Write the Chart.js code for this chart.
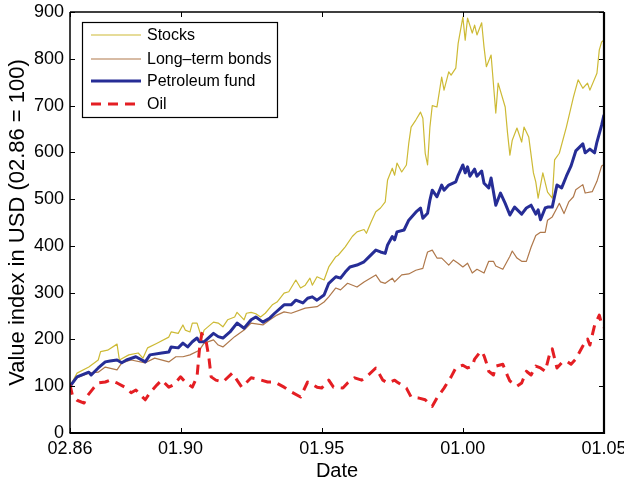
<!DOCTYPE html>
<html>
<head>
<meta charset="utf-8">
<script src="https://cdn.jsdelivr.net/npm/chart.js@4.4.1/dist/chart.umd.min.js"></script>
<style>
html,body{margin:0;padding:0;background:#fff;}
#c{display:block;}
</style>
</head>
<body>
<canvas id="c" width="624" height="483" style="width:624px;height:483px"></canvas>
<script>
// Months counted from Feb 1986 (0) to Jan 2005 (227)
const tickMonths = [0, 47, 107, 167, 227];
const tickLabels = ['02.86', '01.90', '01.95', '01.00', '01.05'];
const seriesNames = ['Stocks', 'Long\u2013term bonds', 'Petroleum fund', 'Oil'];

const stocksMonths = [0,3,8,12,13,16,20,21,25,29,31,33,37,42,43,46,48,49,51,52,54,56,57,61,63,65,67,70,71,74,75,77,79,81,83,86,88,91,93,96,98,100,102,103,105,108,110,113,114,117,120,122,125,126,128,130,132,134,135,137,138,139,141,143,144,145,147,149,150,151,152,153,154,156,158,159,161,162,164,165,167,168,169,171,172,173,175,176,177,179,181,182,185,186,187,188,190,192,193,195,197,198,199,201,203,205,206,208,211,214,216,218,220,221,224,225,226,227];
const stocksValues = [100,128,141,156,174,177,190,156,167,171,160,182,192,205,216,213,231,220,216,235,235,203,220,237,235,227,242,248,258,242,256,258,255,248,256,274,280,299,302,327,310,316,331,316,334,327,355,377,380,398,420,430,435,427,451,473,481,494,541,566,551,577,558,573,619,654,669,686,673,598,573,654,700,697,761,733,772,765,780,833,889,840,887,855,872,851,877,825,783,808,684,748,697,641,594,626,652,622,654,633,556,537,502,556,515,502,584,598,654,718,755,737,748,733,769,819,836,840];

const bondsMonths = [0,3,8,12,15,20,22,26,32,36,42,45,48,51,55,57,61,63,65,70,74,77,82,85,88,91,94,100,105,108,110,113,115,118,122,125,130,132,134,137,138,141,144,147,150,151,152,154,156,158,161,163,165,167,169,171,173,176,178,180,181,184,187,188,190,192,194,196,198,200,202,203,205,207,208,210,212,214,215,218,219,222,224,226,227];
const bondsValues = [100,118,128,130,141,135,150,156,150,160,152,163,163,167,177,192,199,188,184,206,220,235,231,242,252,259,256,267,270,280,291,310,306,320,312,323,338,323,320,331,323,338,340,348,352,370,387,391,374,374,359,370,363,355,363,342,350,342,367,367,357,350,378,389,374,367,367,397,422,429,429,455,462,481,491,469,494,505,520,531,513,516,538,571,574];

const fundMonths = [0,3,8,9,12,15,17,20,22,24,28,32,34,39,42,43,46,48,50,52,54,55,57,61,63,65,68,71,74,77,79,82,85,87,91,94,96,99,101,103,105,108,110,113,115,117,119,122,125,127,130,132,134,135,137,138,139,142,144,147,149,150,152,153,154,156,158,159,161,164,165,167,168,169,170,172,173,175,176,178,179,181,183,185,187,189,192,194,196,198,199,200,202,203,205,207,209,211,213,215,218,219,221,223,224,226,227];
const fundValues = [100,120,130,124,139,152,154,156,150,156,163,152,167,171,173,184,182,192,184,195,203,195,195,213,206,203,216,235,224,242,248,237,246,256,274,274,284,278,288,291,284,295,320,334,331,344,355,359,366,376,391,387,384,402,420,413,430,434,455,472,481,459,470,498,519,505,530,519,530,537,551,573,556,569,549,564,549,560,534,524,545,487,513,491,466,483,468,481,487,468,477,456,481,483,483,530,524,549,571,603,618,599,607,599,622,658,680];

const oilMonths = [0,1,3,6,7,10,12,15,17,20,24,26,28,30,32,34,37,39,42,44,47,49,52,54,55,56,58,59,60,62,65,69,73,77,80,84,87,91,94,98,101,105,107,110,112,116,118,121,124,126,130,133,135,138,139,143,145,148,151,154,156,159,162,164,167,169,171,172,174,175,176,177,178,180,181,184,186,187,190,192,194,196,198,200,202,204,205,207,209,211,213,215,218,220,221,223,224,225,226,227];
const oilValues = [103,81,70,64,77,96,107,109,113,107,96,86,92,81,71,86,103,113,98,103,120,109,98,120,177,213,192,163,120,113,109,128,98,118,115,109,109,98,88,77,109,98,96,113,98,96,107,118,113,120,139,113,107,113,109,96,77,75,71,57,75,96,120,139,145,139,143,158,171,175,165,150,132,124,143,147,122,111,100,107,132,124,143,139,132,171,180,139,150,154,147,158,186,201,188,230,241,252,233,226];

const yTicks = [0,100,200,300,400,500,600,700,800,900];

const FONT = '"Liberation Sans", Arial, Helvetica, sans-serif';
const pts = (ms, vs) => ms.map((m, i) => ({x: m, y: vs[i]}));

const colors = ['#CDBA35', '#AF784B', '#262D96', '#E41E23'];
const widths = [1.2, 1.2, 3, 3];
const dashes = [[], [], [], [10, 7]];

const framePlugin = {
  id: 'frame',
  afterDatasetsDraw(chart) {
    const {ctx, chartArea: a, scales} = chart;
    ctx.save();
    ctx.strokeStyle = '#000';
    ctx.setLineDash([]);
    ctx.lineWidth = 1.5;
    ctx.beginPath();
    ctx.moveTo(a.left, a.top); ctx.lineTo(a.right, a.top);
    ctx.moveTo(a.left, a.top); ctx.lineTo(a.left, a.bottom);
    ctx.stroke();
    ctx.lineWidth = 2.2;
    ctx.beginPath();
    ctx.moveTo(a.left - 0.5, a.bottom); ctx.lineTo(a.right + 1, a.bottom);
    ctx.moveTo(a.right, a.top); ctx.lineTo(a.right, a.bottom + 1);
    ctx.stroke();
    ctx.lineWidth = 1;
    const tl = 5;
    yTicks.forEach(v => {
      const y = Math.round(scales.y.getPixelForValue(v)) + 0.5;
      ctx.beginPath();
      ctx.moveTo(a.left, y); ctx.lineTo(a.left + tl, y);
      ctx.moveTo(a.right, y); ctx.lineTo(a.right - tl, y);
      ctx.stroke();
    });
    tickMonths.forEach(v => {
      const x = Math.round(scales.x.getPixelForValue(v)) + 0.5;
      ctx.beginPath();
      ctx.moveTo(x, a.bottom); ctx.lineTo(x, a.bottom - tl);
      ctx.moveTo(x, a.top); ctx.lineTo(x, a.top + tl);
      ctx.stroke();
    });
    ctx.restore();
  }
};

const legendPlugin = {
  id: 'boxLegend',
  afterDraw(chart) {
    const {ctx, chartArea: a} = chart;
    const bx = a.left + 12, by = a.top + 10, bw = 195, bh = 95;
    ctx.save();
    ctx.fillStyle = '#fff';
    ctx.fillRect(bx, by, bw, bh);
    ctx.strokeStyle = '#000';
    ctx.lineWidth = 1.2;
    ctx.setLineDash([]);
    ctx.strokeRect(bx + 0.5, by + 0.5, bw, bh);
    const rows = [13, 37, 59, 82];
    ctx.font = '16px ' + FONT;
    ctx.textBaseline = 'middle';
    ctx.textAlign = 'left';
    chart.data.datasets.forEach((ds, i) => {
      const y = by + rows[i];
      ctx.strokeStyle = ds.borderColor;
      ctx.lineWidth = ds.borderWidth;
      ctx.setLineDash(ds.borderDash || []);
      ctx.beginPath();
      ctx.moveTo(bx + 9, y);
      ctx.lineTo(bx + 59, y);
      ctx.stroke();
      ctx.setLineDash([]);
      ctx.fillStyle = '#000';
      ctx.fillText(ds.label, bx + 65, y + 1);
    });
    ctx.restore();
  }
};

const series = [
  [stocksMonths, stocksValues],
  [bondsMonths, bondsValues],
  [fundMonths, fundValues],
  [oilMonths, oilValues]
];
const orders = [3, 2, 1, 0];

new Chart(document.getElementById('c'), {
  type: 'line',
  data: {
    datasets: series.map((s, i) => ({
      label: seriesNames[i],
      data: pts(s[0], s[1]),
      borderColor: colors[i],
      backgroundColor: colors[i],
      borderWidth: widths[i],
      borderDash: dashes[i],
      pointRadius: 0,
      tension: 0,
      fill: false,
      order: orders[i],
      borderJoinStyle: 'round'
    }))
  },
  options: {
    responsive: false,
    devicePixelRatio: 1,
    animation: false,
    layout: {padding: {left: 0, top: 12, right: 20, bottom: 0}},
    plugins: {legend: {display: false}, tooltip: {enabled: false}},
    scales: {
      x: {
        type: 'linear', min: 0, max: 227,
        grid: {display: false, drawTicks: false},
        border: {display: false},
        afterBuildTicks: s => { s.ticks = tickMonths.map(v => ({value: v})); },
        afterFit: s => { s.height = 50; s.paddingLeft = 0; s.paddingRight = 0; },
        ticks: {
          autoSkip: false, maxRotation: 0, minRotation: 0, padding: 5,
          color: '#000', font: {family: FONT, size: 18},
          callback: v => { const i = tickMonths.indexOf(v); return i >= 0 ? tickLabels[i] : ''; }
        },
        title: {display: true, text: 'Date', color: '#000', font: {family: FONT, size: 20}, padding: {top: 0, bottom: 0}}
      },
      y: {
        min: 0, max: 900,
        grid: {display: false, drawTicks: false},
        border: {display: false},
        afterBuildTicks: s => { s.ticks = yTicks.map(v => ({value: v})); },
        afterFit: s => { s.width = 70; s.paddingTop = 0; s.paddingBottom = 0; },
        ticks: {padding: 6, color: '#000', font: {family: FONT, size: 18}},
        title: {display: true, text: 'Value index in USD (02.86 = 100)', color: '#000', font: {family: FONT, size: 22}, padding: {top: 5, bottom: 0}}
      }
    }
  },
  plugins: [framePlugin, legendPlugin]
});
</script>
</body>
</html>
